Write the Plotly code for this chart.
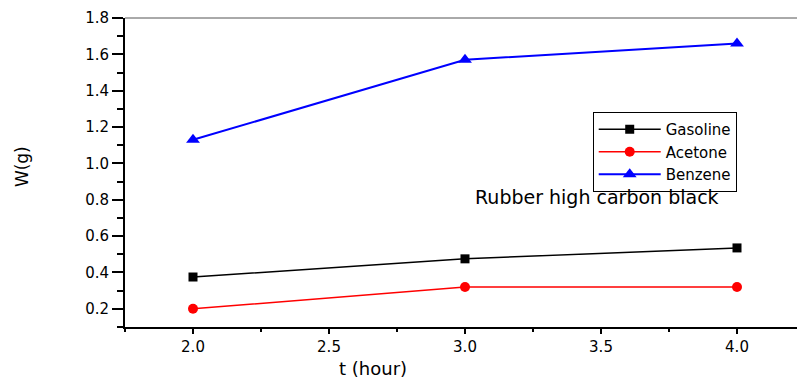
import plotly.graph_objects as go

t_hours = [2.0, 3.0, 4.0]
gasoline = [0.375, 0.475, 0.535]
acetone = [0.20, 0.32, 0.32]
benzene = [1.13, 1.57, 1.66]

x_ticks = [2.0, 2.5, 3.0, 3.5, 4.0]
x_tick_labels = ["2.0", "2.5", "3.0", "3.5", "4.0"]
y_ticks = [0.2, 0.4, 0.6, 0.8, 1.0, 1.2, 1.4, 1.6, 1.8]
y_tick_labels = ["0.2", "0.4", "0.6", "0.8", "1.0", "1.2", "1.4", "1.6", "1.8"]

FONT = "DejaVu Sans, Verdana, sans-serif"

fig = go.Figure()
fig.add_trace(go.Scatter(x=t_hours, y=gasoline, name="Gasoline", mode="lines+markers",
                         line=dict(color="black", width=1.5),
                         marker=dict(symbol="square", size=9, color="black")))
fig.add_trace(go.Scatter(x=t_hours, y=acetone, name="Acetone", mode="lines+markers",
                         line=dict(color="red", width=1.5),
                         marker=dict(symbol="circle", size=10, color="red")))
fig.add_trace(go.Scatter(x=t_hours, y=benzene, name="Benzene", mode="lines+markers",
                         line=dict(color="blue", width=2),
                         marker=dict(symbol="triangle-up", size=12, color="blue")))

fig.update_layout(
    width=797, height=379,
    margin=dict(l=125, r=0, t=18, b=52, autoexpand=False),
    paper_bgcolor="white", plot_bgcolor="white",
    font=dict(family=FONT, color="black"),
    showlegend=True,
    legend=dict(x=0.696, y=0.696, xanchor="left", yanchor="top",
                bgcolor="white", bordercolor="black", borderwidth=1,
                font=dict(size=15, family=FONT), itemwidth=62,
                tracegroupgap=0, traceorder="normal"),
    annotations=[
        dict(text="Rubber high carbon black", xref="paper", yref="paper",
             x=0.518, y=0.42, xanchor="left", yanchor="middle",
             showarrow=False, font=dict(size=19, family=FONT)),
        dict(text="t (hour)", xref="paper", yref="paper",
             x=0.369, y=-0.133, xanchor="center", yanchor="middle",
             showarrow=False, font=dict(size=18, family=FONT)),
        dict(text="W(g)", xref="paper", yref="paper", textangle=-90,
             x=-0.153, y=0.518, xanchor="center", yanchor="middle",
             showarrow=False, font=dict(size=17, family=FONT)),
    ],
    shapes=[dict(type="line", xref="paper", yref="paper", x0=0, x1=1, y0=1, y1=1,
                 line=dict(color="#555555", width=1))],
)

fig.update_xaxes(range=[1.75, 4.2206], tickmode="array", tickvals=x_ticks, ticktext=x_tick_labels,
                 ticks="outside", ticklen=5, tickwidth=1.5, tickcolor="black",
                 minor=dict(ticks="outside", ticklen=3, tickwidth=1.5, tickcolor="black", dtick=0.25, tick0=1.75, showgrid=False),
                 showline=True, linecolor="black", linewidth=2, showgrid=False, zeroline=False,
                 tickfont=dict(size=15, family=FONT))
fig.update_yaxes(range=[0.1, 1.8], tickmode="array", tickvals=y_ticks, ticktext=y_tick_labels,
                 ticks="outside", ticklen=11, tickwidth=1.5, tickcolor="black",
                 minor=dict(ticks="outside", ticklen=6, tickwidth=1.5, tickcolor="black", dtick=0.1, tick0=0.1, showgrid=False),
                 showline=True, linecolor="black", linewidth=2, showgrid=False, zeroline=False,
                 tickfont=dict(size=15, family=FONT))

fig.write_html("out.html", config={"displayModeBar": False},
               post_script="document.body.style.margin='0';document.body.style.overflow='hidden';")
